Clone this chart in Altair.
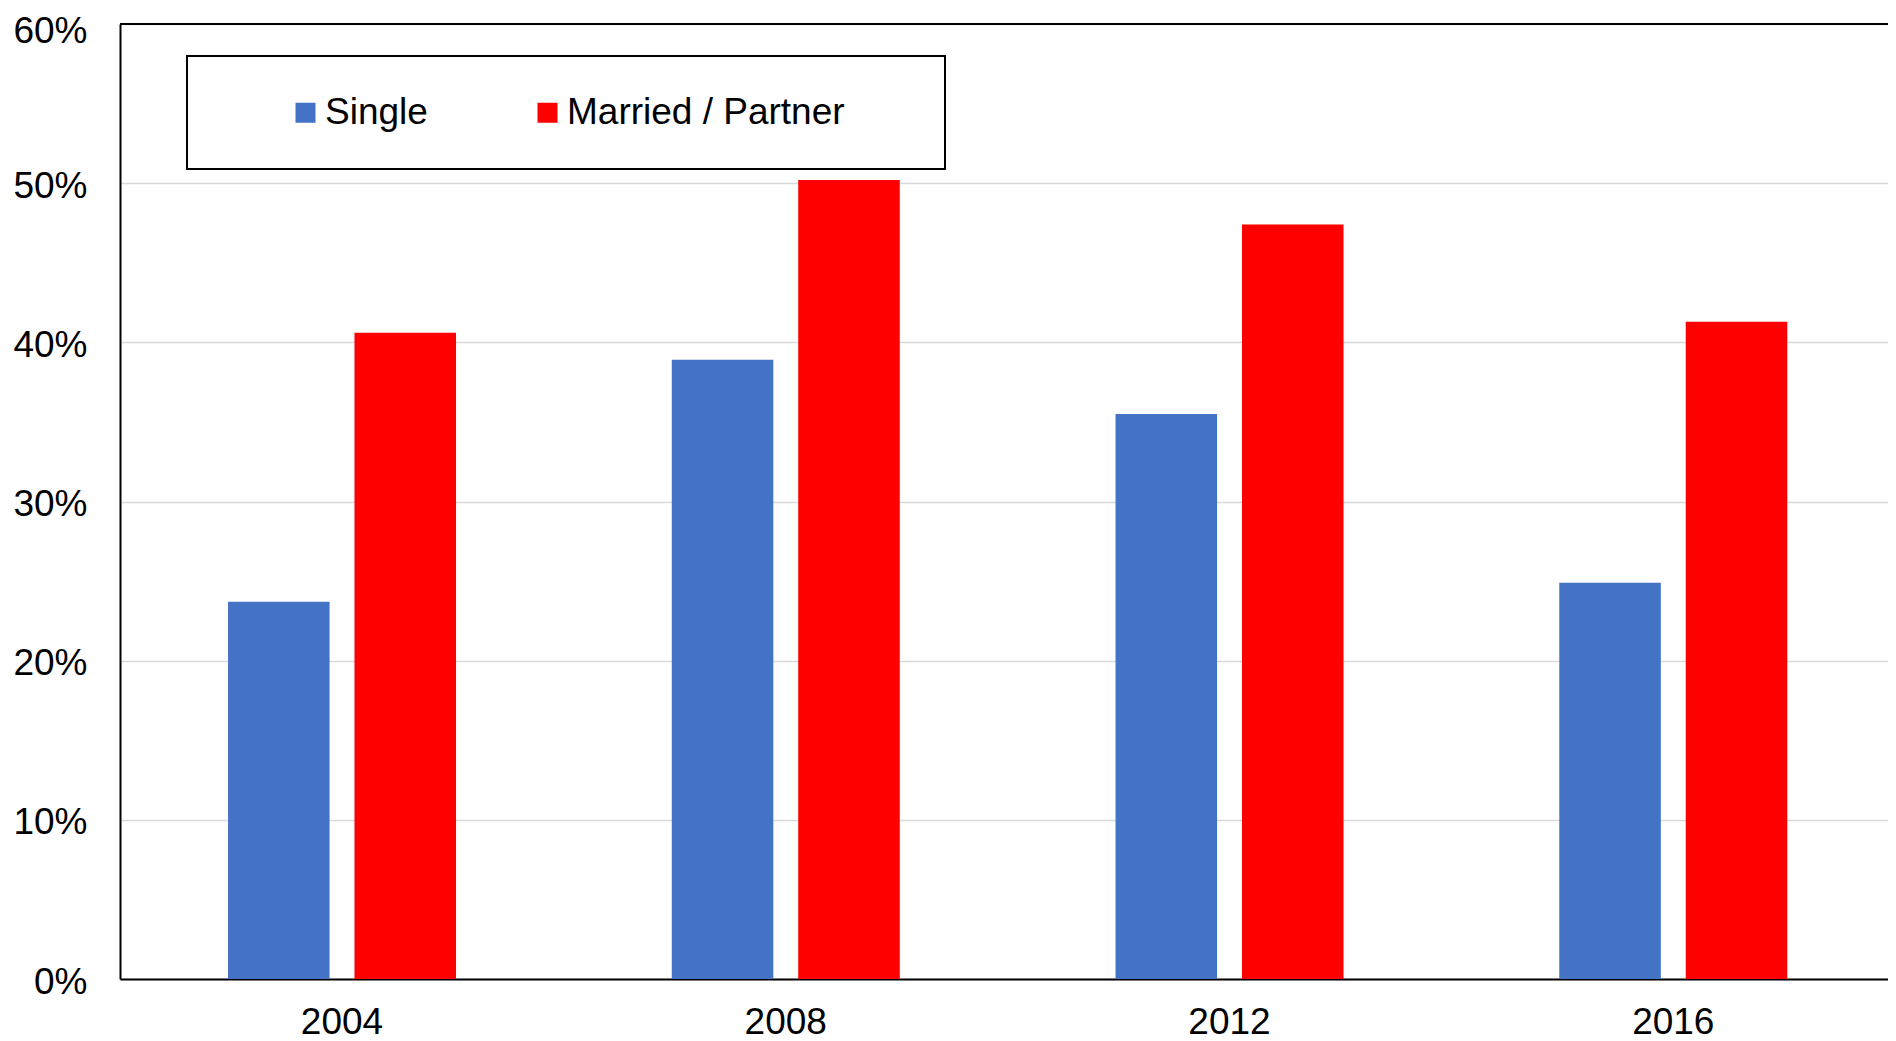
import altair as alt
import pandas as pd

years = ["2004", "2008", "2012", "2016"]
groups = ["Single", "Married / Partner"]
single = [0.237, 0.389, 0.355, 0.249]
married = [0.406, 0.502, 0.474, 0.413]
colors = ["#4472C4", "#FF0000"]
y_ticks = [0, 0.1, 0.2, 0.3, 0.4, 0.5, 0.6]

rows = []
for i, yr in enumerate(years):
    rows.append({"year": yr, "group": groups[0], "value": single[i]})
    rows.append({"year": yr, "group": groups[1], "value": married[i]})
df = pd.DataFrame(rows)

FONT = "Liberation Sans, Arial, sans-serif"
PAD_TAIL = "\u00a0" * 6 + "\u200b"

bars = alt.Chart(df).mark_bar().encode(
    x=alt.X("year:N", sort=years, title=None,
            scale=alt.Scale(paddingInner=0.4862, paddingOuter=0.2352, align=0.5175),
            axis=alt.Axis(labelAngle=0, ticks=False, labelPadding=25, grid=False,
                          domainColor="black", domainWidth=2)),
    xOffset=alt.XOffset("group:N", sort=groups,
                        scale=alt.Scale(paddingInner=0.197, paddingOuter=0)),
    y=alt.Y("value:Q", title=None,
            scale=alt.Scale(domain=[0, 0.6], nice=False),
            axis=alt.Axis(values=y_ticks, format=".0%", ticks=False, labelPadding=33,
                          labelOffset={"condition": {"test": "datum.value >= 0.59", "value": 7},
                                       "value": 3},
                          grid=True, gridColor="#d9d9d9", gridWidth=1.5,
                          domainColor="black", domainWidth=2)),
    color=alt.Color("group:N", sort=groups,
                    scale=alt.Scale(domain=groups, range=colors),
                    legend=alt.Legend(
                        title="\u00a0", titleOrient="left", titleFontSize=1, titlePadding=62,
                        orient="none", legendX=67, legendY=32, direction="horizontal",
                        symbolType="square", symbolSize=400, symbolStrokeWidth=0,
                        labelFontSize=37, labelFont=FONT, labelColor="black",
                        labelOffset=1, labelLimit=600, columnPadding=101, padding=38,
                        strokeColor="black",
                        labelExpr="indexof(datum.label, 'Married') >= 0 ? datum.label + '" + PAD_TAIL + "' : datum.label",
                    )),
)

top_border = alt.Chart(df).mark_rule(color="black", strokeWidth=2).encode(
    y=alt.datum(0.6)
)

chart = alt.layer(bars, top_border).properties(
    width=1768, height=955,
    autosize=alt.AutoSizeParams(type="none"),
    padding={"left": 112, "top": 16, "right": 0, "bottom": 62},
).configure_view(
    stroke="#a6a6a6", strokeWidth=1
).configure_axis(
    labelFont=FONT, labelFontSize=37, labelColor="black"
).configure_legend(
    strokeWidth=2
)

chart.save("out.html", embed_options={"renderer": "svg", "actions": False})
